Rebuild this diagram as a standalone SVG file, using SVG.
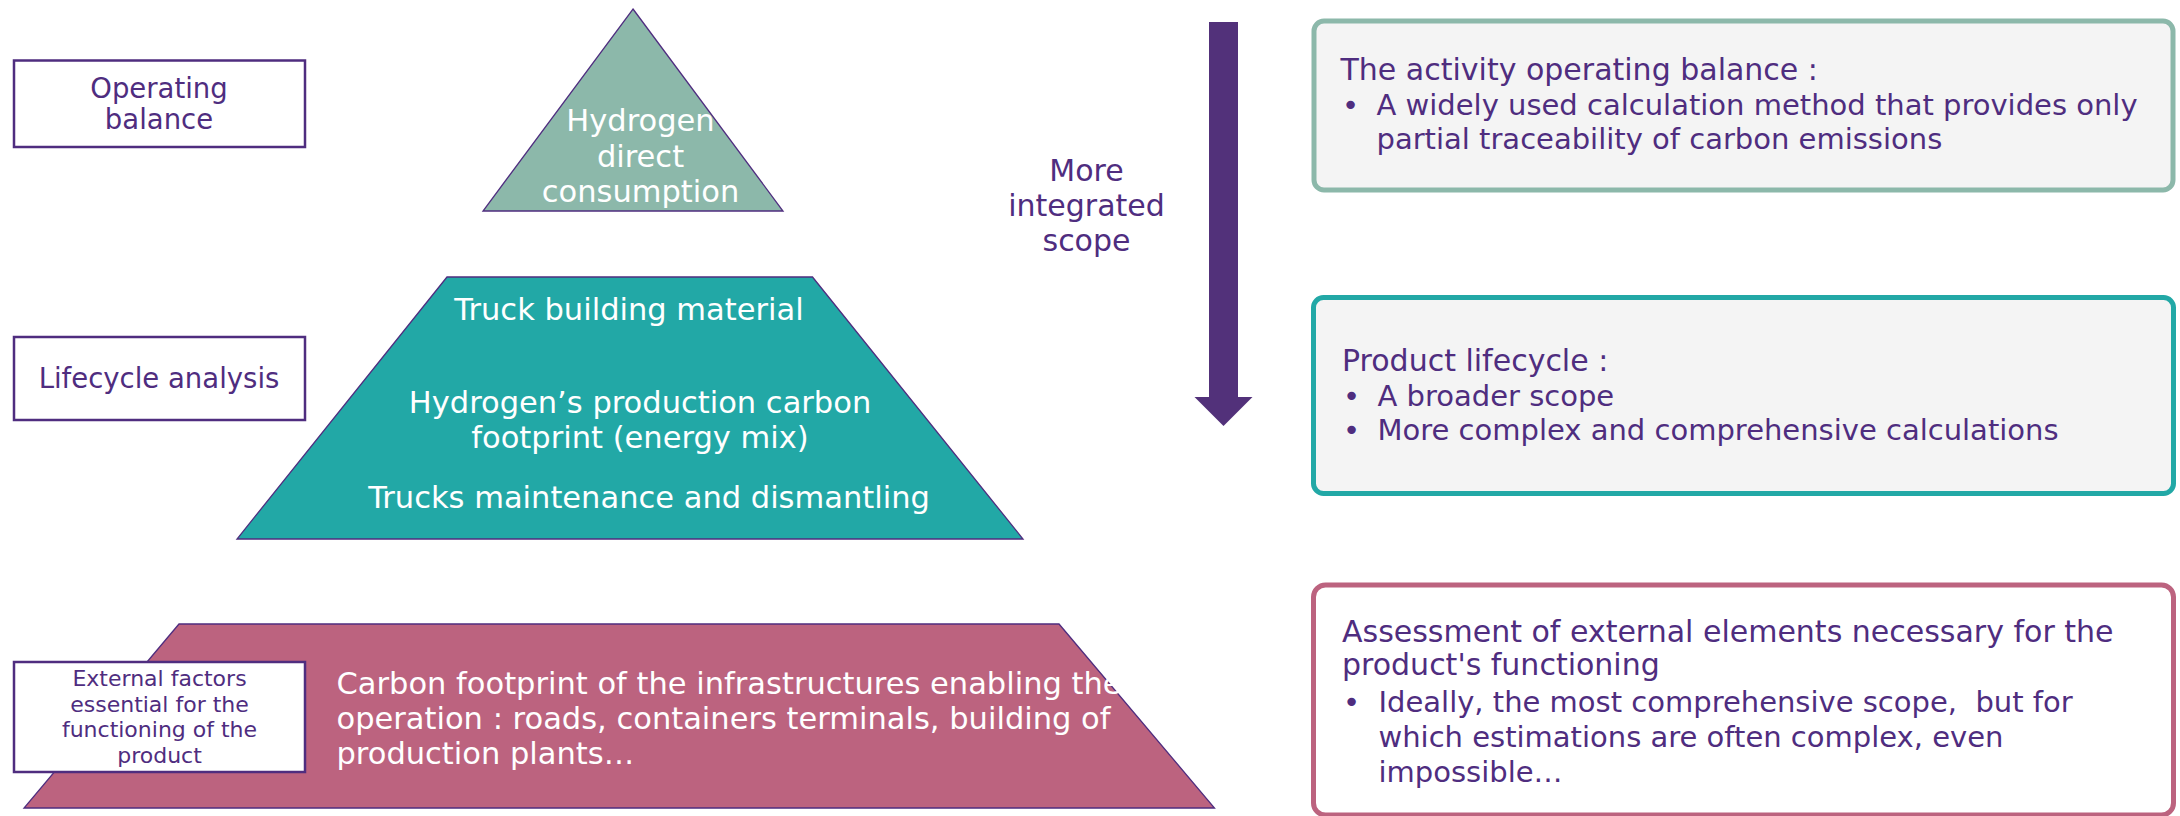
<svg xmlns="http://www.w3.org/2000/svg" width="2180" height="816" viewBox="0 0 2180 816">
<style>
text{font-family:"DejaVu Sans","Liberation Sans",sans-serif}
.lbl{fill:#fff;stroke:#4F2D7F;stroke-width:2.5}
.lt{fill:#4F2D7F;font-size:27.5px;text-anchor:middle}
.lts{fill:#4F2D7F;font-size:22px;text-anchor:middle}
.shape{stroke:#4F2D7F;stroke-width:1.3}
.wt{fill:#fff;font-size:30.5px}
.wc{text-anchor:middle}
.box{stroke-width:5}
.h{fill:#4F2D7F;font-size:30px}
.b{fill:#4F2D7F;font-size:29px}
</style>
<rect width="2180" height="816" fill="#fff"/>

<g id="label-operating">
<rect class="lbl" x="14" y="60.5" width="291" height="86.5"/>
<text class="lt" x="159" y="98">Operating</text>
<text class="lt" x="159" y="129">balance</text>
</g>

<g id="label-lifecycle">
<rect class="lbl" x="14" y="337" width="291" height="83"/>
<text class="lt" x="159" y="387.5">Lifecycle analysis</text>
</g>

<g id="level-hydrogen">
<polygon class="shape" fill="#8CB8AA" points="633,9 783,211 483,211"/>
<text class="wt wc" x="640.5" y="131">Hydrogen</text>
<text class="wt wc" x="640.5" y="166.5">direct</text>
<text class="wt wc" x="640.5" y="202">consumption</text>
</g>

<g id="level-lifecycle">
<polygon class="shape" fill="#22A8A6" points="447,277 812.5,277 1023,539 237,539"/>
<text class="wt wc" x="629" y="320">Truck building material</text>
<text class="wt wc" x="640" y="413">Hydrogen’s production carbon</text>
<text class="wt wc" x="640" y="448">footprint (energy mix)</text>
<text class="wt wc" x="649" y="508">Trucks maintenance and dismantling</text>
</g>

<g id="level-external">
<polygon class="shape" fill="#BC637F" points="179,624 1059,624 1214.5,808 24,808"/>
<text class="wt" x="336.5" y="694">Carbon footprint of the infrastructures enabling the</text>
<text class="wt" x="336.5" y="729">operation : roads, containers terminals, building of</text>
<text class="wt" x="336.5" y="764">production plants…</text>
</g>

<g id="label-external">
<rect class="lbl" x="14" y="662" width="291" height="110"/>
<text class="lts" x="159.5" y="686">External factors</text>
<text class="lts" x="159.5" y="711.5">essential for the</text>
<text class="lts" x="159.5" y="737">functioning of the</text>
<text class="lts" x="159.5" y="762.5">product</text>
</g>

<g id="connectors">
<polygon fill="#52317A" points="1209,22 1238,22 1238,397 1252.5,397 1223.5,426 1194.5,397 1209,397"/>
</g>

<g id="scope-label">
<text class="h" x="1086.5" y="180.5" text-anchor="middle">More</text>
<text class="h" x="1086.5" y="215.5" text-anchor="middle">integrated</text>
<text class="h" x="1086.5" y="250.5" text-anchor="middle">scope</text>
</g>

<g id="box-operating">
<rect class="box" x="1314" y="21" width="859" height="169" rx="10" fill="#F4F4F4" stroke="#8CB8AA"/>
<text class="h" x="1340.5" y="80">The activity operating balance :</text>
<text class="b" x="1342" y="115">•</text>
<text class="b" x="1376.5" y="115">A widely used calculation method that provides only</text>
<text class="b" x="1376.5" y="148.5">partial traceability of carbon emissions</text>
</g>

<g id="box-lifecycle">
<rect class="box" x="1313.5" y="297.5" width="860" height="196" rx="10" fill="#F4F4F4" stroke="#22A8A6"/>
<text class="h" x="1342" y="370.5">Product lifecycle :</text>
<text class="b" x="1343" y="406">•</text>
<text class="b" x="1377.5" y="406">A broader scope</text>
<text class="b" x="1343" y="440">•</text>
<text class="b" x="1377.5" y="440">More complex and comprehensive calculations</text>
</g>

<g id="box-external">
<rect class="box" x="1313.5" y="585" width="860" height="230" rx="12" fill="#fff" stroke="#BC637F"/>
<text class="h" x="1342" y="641.5">Assessment of external elements necessary for the</text>
<text class="h" x="1342" y="675">product's functioning</text>
<text class="b" x="1343" y="711.5">•</text>
<text class="b" x="1378.5" y="711.5" xml:space="preserve">Ideally, the most comprehensive scope,  but for</text>
<text class="b" x="1378.5" y="746.5">which estimations are often complex, even</text>
<text class="b" x="1378.5" y="781.5">impossible…</text>
</g>
</svg>
